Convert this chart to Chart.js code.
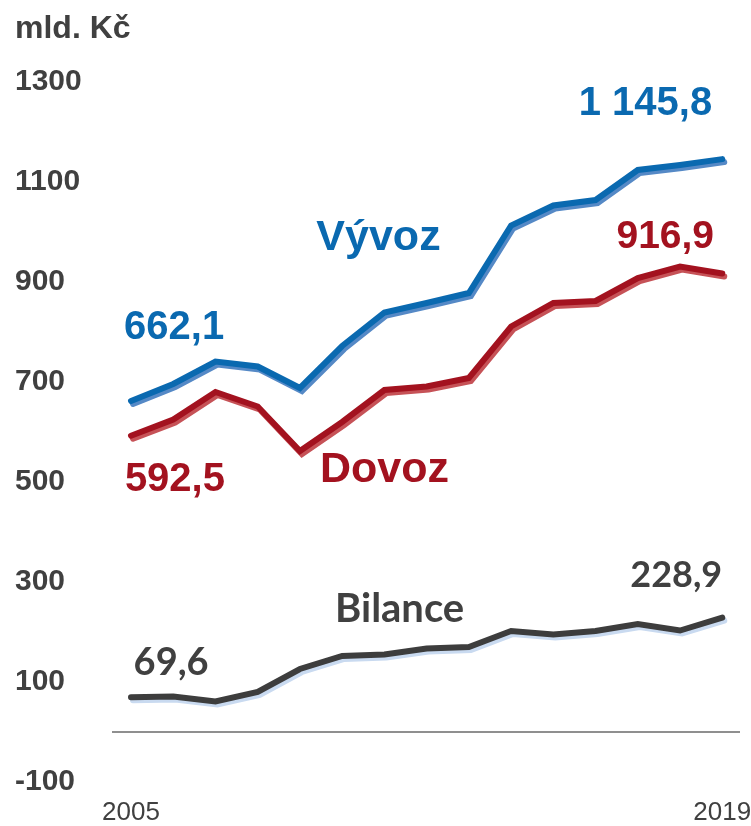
<!DOCTYPE html>
<html>
<head>
<meta charset="utf-8">
<script src="https://cdn.jsdelivr.net/npm/chart.js@4.4.1/dist/chart.umd.min.js"></script>
<style>
  html, body { margin: 0; padding: 0; background: #ffffff; }
  #wrap { width: 751px; height: 826px; position: relative; }
</style>
</head>
<body>
<div id="wrap"><canvas id="c" width="751" height="826"></canvas></div>
<script>
// ---- data (mld. Kč) ----
const years   = [2005, 2006, 2007, 2008, 2009, 2010, 2011, 2012, 2013, 2014, 2015, 2016, 2017, 2018, 2019];
const vyvoz   = [662.1, 696, 741, 731, 688, 772, 839, 858, 878, 1013, 1053, 1064, 1124, 1134, 1145.8];
const dovoz   = [592.5, 625, 680, 651, 562, 620, 684, 691, 708, 811, 858, 862, 908, 931, 916.9];
const bilance = [69.6, 71, 61, 80, 126, 152, 155, 167, 170, 202, 195, 202, 216, 203, 228.9];
const yTicks  = [-100, 100, 300, 500, 700, 900, 1100, 1300];
const xTicks  = [2005, 2019];
const unitLabel = 'mld. Kč';

// text annotations: [text, yearPos, valuePos(baseline), colour, font]
const annotations = [
  ['662,1',   2006.02, 787,  '#0a69b0', 'bold 40px "Liberation Sans", Arial, sans-serif'],
  ['592,5',   2006.04, 483,  '#a3121f', 'bold 40px "Liberation Sans", Arial, sans-serif'],
  ['Vývoz',   2010.86, 965,  '#0a69b0', 'bold 43px "Liberation Sans", Arial, sans-serif'],
  ['Dovoz',   2011.00, 501,  '#a3121f', 'bold 43px "Liberation Sans", Arial, sans-serif'],
  ['1 145,8', 2017.18, 1235, '#0a69b0', 'bold 40px "Liberation Sans", Arial, sans-serif'],
  ['916,9',   2017.65, 969,  '#a3121f', 'bold 39px "Liberation Sans", Arial, sans-serif'],
  ['Bilance', 2011.36, 221,  '#404040', 'bold 40px Lato, "Open Sans", sans-serif'],
  ['228,9',   2017.91, 291,  '#404040', 'bold 36px Lato, "Open Sans", sans-serif'],
  ['69,6',    2005.95, 115,  '#404040', 'bold 38px Lato, "Open Sans", sans-serif']
];

const toPts = arr => years.map((y, i) => ({ x: y, y: arr[i] }));

const shadowPlugin = {
  id: 'lineShadow',
  beforeDatasetDraw(chart, args) {
    const ds = chart.data.datasets[args.index];
    const ctx = chart.ctx;
    ctx.save();
    ctx.shadowColor = ds.shadowCol;
    ctx.shadowOffsetX = 2;
    ctx.shadowOffsetY = 3;
    ctx.shadowBlur = 0;
  },
  afterDatasetDraw(chart) {
    chart.ctx.restore();
  }
};

const textPlugin = {
  id: 'texts',
  afterDraw(chart) {
    const ctx = chart.ctx;
    const xs = chart.scales.x, ys = chart.scales.y;
    ctx.save();
    ctx.textAlign = 'left';
    ctx.textBaseline = 'alphabetic';
    ctx.fillStyle = '#404040';
    ctx.font = 'bold 32px "Liberation Sans", Arial, sans-serif';
    ctx.fillText(unitLabel, 15, 38);
    ctx.textAlign = 'center';
    annotations.forEach(([t, xv, yv, col, font]) => {
      ctx.font = font;
      ctx.fillStyle = col;
      ctx.fillText(t, xs.getPixelForValue(xv), ys.getPixelForValue(yv));
    });
    ctx.restore();
  }
};

new Chart(document.getElementById('c'), {
  type: 'line',
  data: {
    datasets: [
      { label: 'Vývoz', data: toPts(vyvoz), borderColor: '#0a69b0', shadowCol: '#5589c6' },
      { label: 'Dovoz', data: toPts(dovoz), borderColor: '#a3121f', shadowCol: '#c65257' },
      { label: 'Bilance', data: toPts(bilance), borderColor: '#3d3d3d', shadowCol: '#c9daf0' }
    ]
  },
  options: {
    responsive: false,
    animation: false,
    devicePixelRatio: 1,
    layout: { padding: { left: 15, right: 11, top: 82, bottom: 2 } },
    elements: {
      line: { borderWidth: 6, tension: 0, borderCapStyle: 'round', borderJoinStyle: 'miter' },
      point: { radius: 0, hoverRadius: 0 }
    },
    plugins: { legend: { display: false }, tooltip: { enabled: false } },
    scales: {
      x: {
        type: 'linear',
        min: 2004.55,
        max: 2019.42,
        afterBuildTicks: s => { s.ticks = xTicks.map(v => ({ value: v })); },
        afterFit: s => { s.paddingLeft = 0; s.paddingRight = 0; s.height = 42; },
        grid: { display: false, drawTicks: false },
        border: { display: false },
        ticks: {
          padding: 15,
          color: '#404040',
          font: { family: '"Liberation Sans", Arial, sans-serif', size: 26 },
          callback: v => String(v),
          maxRotation: 0,
          autoSkip: false
        }
      },
      y: {
        min: -100,
        max: 1300,
        afterBuildTicks: s => { s.ticks = [0, ...yTicks].map(v => ({ value: v })); },
        afterFit: s => { s.width = 97; },
        grid: {
          drawTicks: false,
          lineWidth: 2,
          color: c => (c.tick && c.tick.value === 0 ? '#8f8f8f' : 'rgba(0,0,0,0)')
        },
        border: { display: false },
        ticks: {
          crossAlign: 'far',
          padding: 0,
          color: '#404040',
          font: { family: '"Liberation Sans", Arial, sans-serif', size: 30, weight: 'bold' },
          callback: v => (v === 0 ? '' : String(v))
        }
      }
    }
  },
  plugins: [shadowPlugin, textPlugin]
});
</script>
</body>
</html>
